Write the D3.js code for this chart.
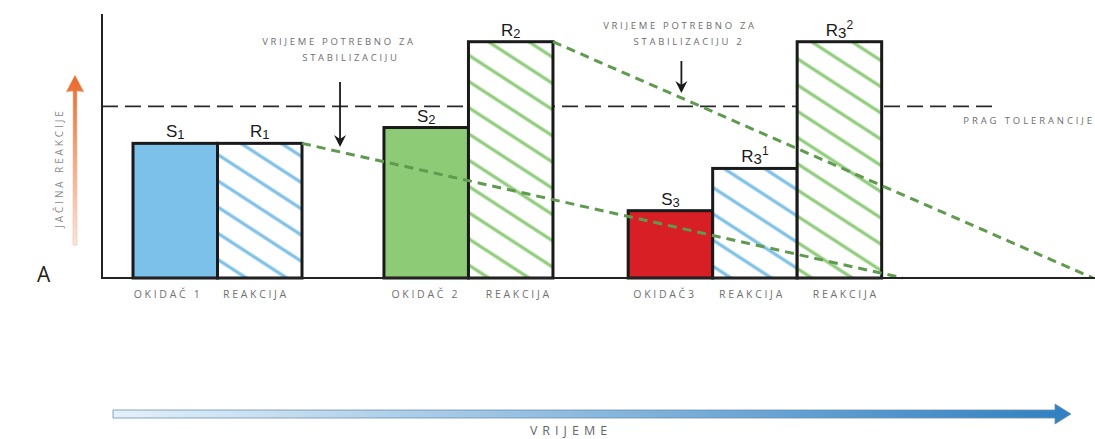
<!DOCTYPE html>
<html>
<head>
<meta charset="utf-8">
<script src="https://cdn.jsdelivr.net/npm/d3@7"></script>
<style>
  body { margin: 0; background: #fff; }
  text { font-family: "Open Sans", "DejaVu Sans", sans-serif; }
  .bar-label { font-family: "Liberation Sans", Arial, sans-serif; font-size: 17px; fill: #1a1a1a; }
  .cat { font-size: 10.5px; letter-spacing: 2.7px; fill: #707070; }
  .note { font-size: 9.5px; letter-spacing: 2.7px; fill: #6e6e6e; }
</style>
</head>
<body>
<div id="chart"></div>
<script>
// bars: name, subscript, superscript, start (time units), value, kind
let barNames = ['S', 'R', 'S', 'R', 'S', 'R', 'R'];
let barSubs = ['1', '1', '2', '2', '3', '3', '3'];
let barSups = ['', '', '', '', '', '1', '2'];
let barStarts = [0, 1, 2.97, 3.97, 5.86, 6.86, 7.86];
let barValues = [51, 51, 57, 89.5, 25.5, 41.5, 89.5];
let barFills = ['blue', 'hatchBlue', 'green', 'hatchGreen', 'red', 'hatchBlue', 'hatchGreen'];
let categories = ['OKIDAČ 1', 'REAKCIJA', 'OKIDAČ 2', 'REAKCIJA', 'OKIDAČ3', 'REAKCIJA', 'REAKCIJA'];
let catOffsets = [-0.1, -0.06, -0.02, 0.08, -0.08, -0.05, 0.06];

// tolerance threshold
let threshold = 65;
let thresholdEnd = 10.17;

// decay (stabilisation) lines: [x0, y0, x1, y1]
let decayLines = [
  [2, 51, 9.11, 0],
  [4.97, 89.5, 11.36, 0]
];

// annotation arrows: x, yFrom, yTo
let noteArrows = [
  [2.45, 74.2, 49.6],
  [6.49, 82.2, 70.1]
];

let width = 1095,
  height = 439;

let svg = d3.select('#chart')
  .append('svg')
  .attr('width', width)
  .attr('height', height);

// x scale in "time" units, one bar is one unit wide
let xScale = d3.scaleLinear()
  .domain([0, 1])
  .range([133, 217.5]);

let yScale = d3.scaleLinear()
  .domain([0, 100])
  .range([278, 14]);

let colors = {
  blue: '#7cc1ea',
  green: '#8ecb77',
  red: '#d81f26',
  hatchBlue: 'url(#hatchBlue)',
  hatchGreen: 'url(#hatchGreen)'
};

let defs = svg.append('defs');

// hatch patterns for the reaction bars
let addHatch = function(id, color) {
  let p = defs.append('pattern')
    .attr('id', id)
    .attr('patternUnits', 'userSpaceOnUse')
    .attr('width', 22)
    .attr('height', 22)
    .attr('patternTransform', 'rotate(33)');
  p.append('rect').attr('width', 22).attr('height', 22).attr('fill', '#fff');
  p.append('line')
    .attr('x1', 0).attr('x2', 22)
    .attr('y1', 11).attr('y2', 11)
    .attr('stroke', color)
    .attr('stroke-width', 3.2);
}
addHatch('hatchBlue', '#7ec0e6');
addHatch('hatchGreen', '#90cc7c');

// gradients for the two axis arrows
let gOrange = defs.append('linearGradient')
  .attr('id', 'gOrange')
  .attr('x1', 0).attr('y1', 1).attr('x2', 0).attr('y2', 0);
gOrange.append('stop').attr('offset', '0%').attr('stop-color', '#fde6d8');
gOrange.append('stop').attr('offset', '100%').attr('stop-color', '#e8692a');

let gBlue = defs.append('linearGradient')
  .attr('id', 'gBlue')
  .attr('x1', 0).attr('y1', 0).attr('x2', 1).attr('y2', 0);
gBlue.append('stop').attr('offset', '0%').attr('stop-color', '#e4f1fa');
gBlue.append('stop').attr('offset', '100%').attr('stop-color', '#2f80c2');

// bars
let bars = barValues.map((v, i) => ({
  name: barNames[i], sub: barSubs[i], sup: barSups[i],
  start: barStarts[i], value: v, fill: barFills[i], cat: categories[i], off: catOffsets[i]
}));

// tolerance line (under the bars)
svg.append('line')
  .attr('x1', xScale.range()[0] - 31)
  .attr('x2', xScale(thresholdEnd))
  .attr('y1', yScale(threshold))
  .attr('y2', yScale(threshold))
  .attr('stroke', '#2a2a2a')
  .attr('stroke-width', 1.6)
  .attr('stroke-dasharray', '16,7');

svg.selectAll('rect.bar')
  .data(bars)
  .enter()
  .append('rect')
    .attr('class', 'bar')
    .attr('x', d => xScale(d.start))
    .attr('y', d => yScale(d.value))
    .attr('width', d => xScale(d.start + 1) - xScale(d.start))
    .attr('height', d => yScale(0) - yScale(d.value))
    .attr('fill', d => colors[d.fill])
    .attr('stroke', '#1a1a1a')
    .attr('stroke-width', 3);

// bar labels with subscripts / superscripts
let labels = svg.selectAll('text.bar-label')
  .data(bars)
  .enter()
  .append('text')
    .attr('class', 'bar-label')
    .attr('x', d => xScale(d.start + 0.5))
    .attr('y', d => yScale(d.value) - 6)
    .attr('text-anchor', 'middle');
labels.append('tspan').text(d => d.name);
labels.append('tspan')
  .attr('font-size', d => d.sup ? 15 : 13)
  .attr('dy', 2)
  .text(d => d.sub);
labels.append('tspan')
  .attr('font-size', 12)
  .attr('dy', -9)
  .text(d => d.sup);

// decay lines
svg.selectAll('line.decay')
  .data(decayLines)
  .enter()
  .append('line')
    .attr('class', 'decay')
    .attr('x1', d => xScale(d[0]))
    .attr('y1', d => yScale(d[1]))
    .attr('x2', d => xScale(d[2]))
    .attr('y2', d => yScale(d[3]))
    .attr('stroke', '#5f9a4f')
    .attr('stroke-width', 3)
    .attr('stroke-dasharray', '9,6');

// axes
svg.append('line')
  .attr('x1', 102).attr('x2', 102)
  .attr('y1', 14).attr('y2', yScale(0))
  .attr('stroke', '#222').attr('stroke-width', 2);
svg.append('line')
  .attr('x1', 101).attr('x2', width)
  .attr('y1', yScale(0)).attr('y2', yScale(0))
  .attr('stroke', '#222').attr('stroke-width', 2);

// category labels
svg.selectAll('text.cat')
  .data(bars)
  .enter()
  .append('text')
    .attr('class', 'cat')
    .attr('x', d => xScale(d.start + 0.5 + d.off) + 1.3)
    .attr('y', 298)
    .attr('text-anchor', 'middle')
    .text(d => d.cat);

// annotation arrows
noteArrows.forEach(a => {
  let x = xScale(a[0]), y0 = yScale(a[1]), y1 = yScale(a[2]);
  svg.append('line')
    .attr('x1', x).attr('x2', x)
    .attr('y1', y0).attr('y2', y1 - 6)
    .attr('stroke', '#1a1a1a').attr('stroke-width', 1.8);
  svg.append('path')
    .attr('d', `M${x - 6},${y1 - 12} L${x},${y1 - 8} L${x + 6},${y1 - 12} L${x},${y1} Z`)
    .attr('fill', '#1a1a1a');
});

// annotation texts
let notes = [
  ['VRIJEME POTREBNO ZA', 339, 45],
  ['STABILIZACIJU', 351, 61],
  ['VRIJEME POTREBNO ZA', 680, 29],
  ['STABILIZACIJU 2', 689, 45]
];
svg.selectAll('text.note')
  .data(notes)
  .enter()
  .append('text')
    .attr('class', 'note')
    .attr('x', d => d[1])
    .attr('y', d => d[2])
    .attr('text-anchor', 'middle')
    .text(d => d[0]);

svg.append('text')
  .attr('class', 'note')
  .attr('x', 1095)
  .attr('y', 124)
  .attr('text-anchor', 'end')
  .style('letter-spacing', '2.9px')
  .text('PRAG TOLERANCIJE');

// y label with orange arrow
svg.append('path')
  .attr('d', 'M73,245 L73,91 L66,92 L75,75 L84,92 L77,91 L77,245 Z')
  .attr('fill', 'url(#gOrange)')
  .attr('stroke', '#e7c2ad')
  .attr('stroke-width', 0.6);
svg.append('text')
  .attr('class', 'note')
  .attr('transform', 'translate(62.5,168) rotate(-90)')
  .attr('text-anchor', 'middle')
  .style('font-size', '10px')
  .style('letter-spacing', '2.9px')
  .style('fill', '#8a8a8a')
  .text('JAČINA REAKCIJE');

// "A" panel letter
svg.append('text')
  .attr('x', 37)
  .attr('y', 282)
  .attr('font-family', '"Liberation Sans", Arial, sans-serif')
  .attr('font-size', 21)
  .attr('fill', '#222')
  .text('A');

// time arrow
svg.append('path')
  .attr('d', 'M113,410 L1055,410 L1055,404 L1071,414 L1055,424 L1055,418 L113,418 Z')
  .attr('fill', 'url(#gBlue)')
  .attr('stroke', '#6f8ea6')
  .attr('stroke-width', 0.8);
svg.append('text')
  .attr('x', 571)
  .attr('y', 435)
  .attr('text-anchor', 'middle')
  .attr('font-size', 12.5)
  .style('letter-spacing', '5px')
  .attr('fill', '#666')
  .text('VRIJEME');
</script>
</body>
</html>
